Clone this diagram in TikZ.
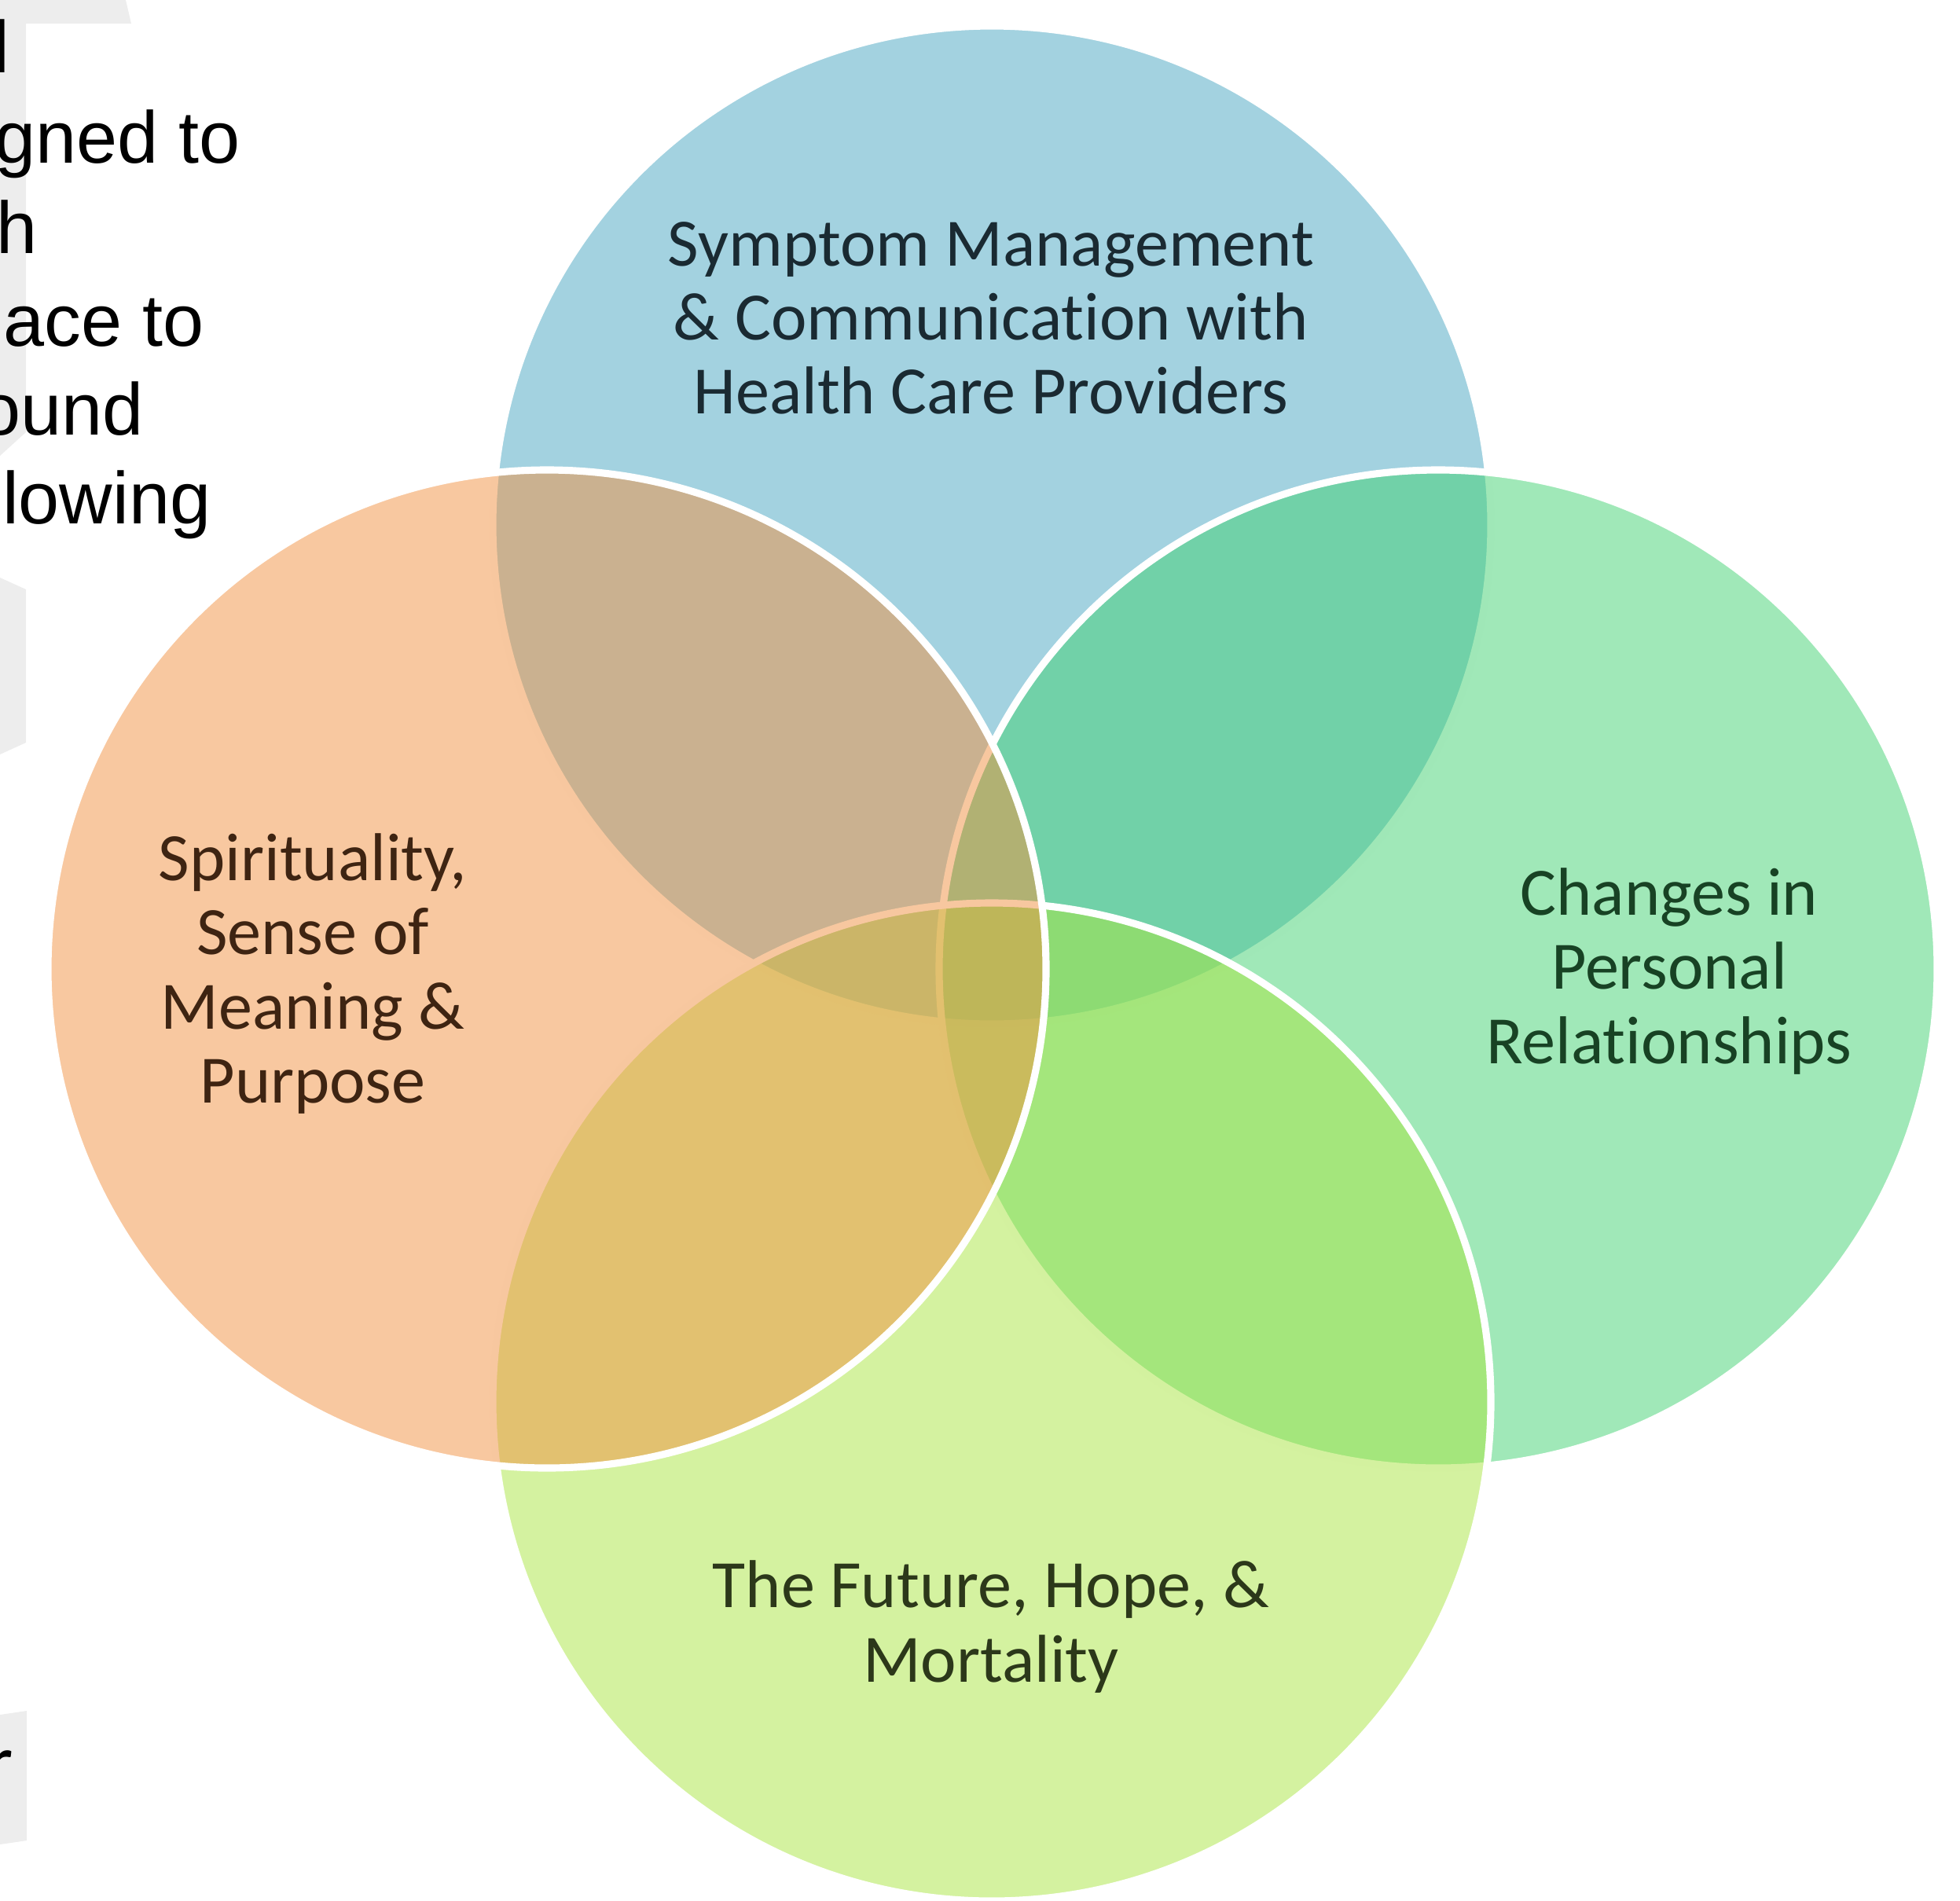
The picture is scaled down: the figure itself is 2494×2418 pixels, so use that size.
\documentclass[tikz,border=0pt]{standalone}
\usepackage{fontspec}
\setmainfont{Carlito}[Ligatures=NoCommon]
\newfontfamily\slidefont{Liberation Sans}
\usepackage{tikz}
\usetikzlibrary{positioning}
\definecolor{symptomBlue}{RGB}{71,165,193}
\definecolor{spiritPeach}{RGB}{241,145,65}
\definecolor{relationGreen}{RGB}{65,209,113}
\definecolor{futureLime}{RGB}{169,229,65}
\definecolor{slideGrey}{RGB}{237,237,237}
\definecolor{blueInk}{RGB}{26,42,50}
\definecolor{peachInk}{RGB}{62,36,18}
\definecolor{greenInk}{RGB}{24,66,36}
\definecolor{limeInk}{RGB}{44,56,26}

\begin{document}
\begin{tikzpicture}[
    x=0.01cm, y=-0.01cm,
    venn/.style={draw=white, line width=2.6pt, fill opacity=0.5},
    topic/.style={align=center, inner sep=0pt, font=\fontsize{24.5}{26.8}\selectfont},
    slidetext/.style={anchor=base east, inner sep=0pt, font=\slidefont\fontsize{26.6}{30}\selectfont}
]
\useasboundingbox (0,0) rectangle (2494,2418);

% Slide behind the diagram
\fill[slideGrey] (0,0) -- (160,0) -- (167,30) -- (33,30) -- (33,550) -- (0,580) -- cycle;
\fill[slideGrey] (0,735) -- (33,750) -- (33,945) -- (0,960) -- cycle;
\fill[slideGrey] (0,2182) -- (34,2177) -- (34,2342) -- (0,2347) -- cycle;

\node[slidetext, anchor=base west] (frag1) at (-9,92) {l};
\node[slidetext] (frag2) at (306,207) {gned to};
\node[slidetext] (frag3) at (48,322) {h};
\node[slidetext] (frag4) at (260,440) {ace to};
\node[slidetext] (frag5) at (183,553) {ound};
\node[slidetext] (frag6) at (269,666) {lowing};
\node[anchor=base east, inner sep=0pt, font=\fontsize{28}{30}\selectfont] (frag7) at (18,2275) {r};

% Circle centres
\coordinate (symptom) at (1262,668);
\coordinate (relation) at (1830,1233);
\coordinate (future) at (1262,1784);
\coordinate (spirit) at (696,1233);

% Circles, later ones tint the earlier outlines
\draw[venn, fill=symptomBlue] (symptom) circle (635);
\draw[venn, fill=relationGreen] (relation) circle (635);
\draw[venn, fill=futureLime] (future) circle (635);
\draw[venn, fill=spiritPeach] (spirit) circle (635);

% Labels
\node[topic, text=blueInk] (symptomText) at (1261,405) {Symptom Management\\ \& Communication with\\ Health Care Providers};
\node[topic, text=peachInk] (spiritText) at (398,1239) {Spirituality,\\ Sense of\\ Meaning \&\\ Purpose};
\node[topic, text=greenInk] (relationText) at (2124,1236) {Changes in\\ Personal\\ Relationships};
\node[topic, text=limeInk] (futureText) at (1261,2070) {The Future, Hope, \&\\ Mortality};

\end{tikzpicture}
\end{document}
